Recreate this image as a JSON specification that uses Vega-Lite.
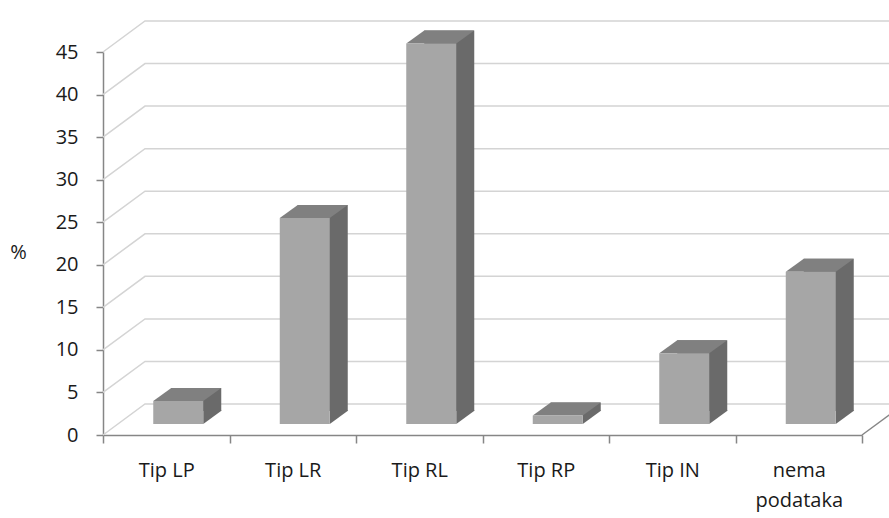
{
  "$schema": "https://vega.github.io/schema/vega-lite/v6.json",
  "width": 759,
  "height": 383,
  "autosize": {"type": "none"},
  "padding": {"left": 103, "top": 52, "right": 27, "bottom": 83},
  "background": "white",
  "config": {
    "view": {"stroke": null},
    "font": "Open Sans",
    "axis": {
      "domainColor": "#868686",
      "domainWidth": 1.5,
      "tickColor": "#868686",
      "tickWidth": 1.5,
      "grid": false,
      "labelColor": "#1A1A1A",
      "labelFont": "Open Sans",
      "labelFontSize": 20,
      "titleFont": "Open Sans",
      "titleColor": "#1A1A1A"
    }
  },
  "datasets": {
    "bars": [
      {"tip": "Tip LP", "pct": 2.7},
      {"tip": "Tip LR", "pct": 24.2},
      {"tip": "Tip RL", "pct": 44.7},
      {"tip": "Tip RP", "pct": 1.0},
      {"tip": "Tip IN", "pct": 8.3},
      {"tip": "nema podataka", "pct": 17.9}
    ],
    "grid": [
      {"g": 0}, {"g": 5}, {"g": 10}, {"g": 15}, {"g": 20},
      {"g": 25}, {"g": 30}, {"g": 35}, {"g": 40}, {"g": 45}
    ]
  },
  "encoding": {
    "x": {
      "field": "tip", "type": "nominal", "sort": null,
      "scale": {"domain": ["Tip LP", "Tip LR", "Tip RL", "Tip RP", "Tip IN", "nema podataka"], "paddingInner": 0, "paddingOuter": 0},
      "axis": {
        "title": null,
        "labelAngle": 0,
        "tickBand": "extent",
        "tickSize": 8,
        "labelPadding": 17,
        "labelLineHeight": 30,
        "labelExpr": "datum.value == 'nema podataka' ? ['nema', 'podataka'] : datum.label"
      }
    }
  },
  "layer": [
    {
      "data": {"name": "grid"},
      "mark": {"type": "point", "shape": "M0,0L42,-31L800,-31", "size": 4, "filled": false, "opacity": 1, "stroke": "#D4D4D4", "strokeWidth": 1.5, "xOffset": -63.25},
      "encoding": {
        "x": {"datum": "Tip LP"},
        "y": {
          "field": "g", "type": "quantitative",
          "scale": {"domain": [0, 45], "nice": false},
          "axis": {
            "values": [0, 5, 10, 15, 20, 25, 30, 35, 40, 45],
            "title": "%",
            "titleAngle": 0,
            "titleFontSize": 20,
            "titleFontWeight": "normal",
            "titleAlign": "center",
            "titleBaseline": "middle",
            "titleX": -85,
            "titleY": 200,
            "tickSize": 7,
            "labelPadding": 18
          }
        }
      }
    },
    {
      "data": {"name": "grid"},
      "transform": [{"filter": "datum.g == 0"}],
      "mark": {"type": "point", "shape": "M0,0L42,-31", "size": 4, "filled": false, "opacity": 1, "stroke": "#868686", "strokeWidth": 1.5, "xOffset": 63.25},
      "encoding": {
        "x": {"datum": "nema podataka"},
        "y": {"field": "g", "type": "quantitative"}
      }
    },
    {
      "data": {"name": "bars"},
      "mark": {"type": "bar", "color": "#6A6A6A", "width": 50, "xOffset": 30, "yOffset": -24, "y2Offset": -24},
      "encoding": {
        "y": {"field": "pct", "type": "quantitative"}
      }
    },
    {
      "data": {"name": "bars"},
      "mark": {"type": "point", "shape": "M25,0L43.5,-13.5L25,-13.5Z", "size": 4, "filled": true, "opacity": 1, "strokeWidth": 0, "color": "#6A6A6A", "xOffset": 12, "yOffset": -11},
      "encoding": {
        "y": {"datum": 0, "type": "quantitative"}
      }
    },
    {
      "data": {"name": "bars"},
      "mark": {"type": "point", "shape": "M-25,0L25,0L43,-13L-7,-13Z", "size": 4, "filled": true, "opacity": 1, "strokeWidth": 0, "color": "#808080", "xOffset": 12, "yOffset": -11},
      "encoding": {
        "y": {"field": "pct", "type": "quantitative"}
      }
    },
    {
      "data": {"name": "bars"},
      "mark": {"type": "bar", "color": "#A6A6A6", "width": 50, "xOffset": 12, "yOffset": -11, "y2Offset": -11},
      "encoding": {
        "y": {"field": "pct", "type": "quantitative"}
      }
    }
  ]
}
